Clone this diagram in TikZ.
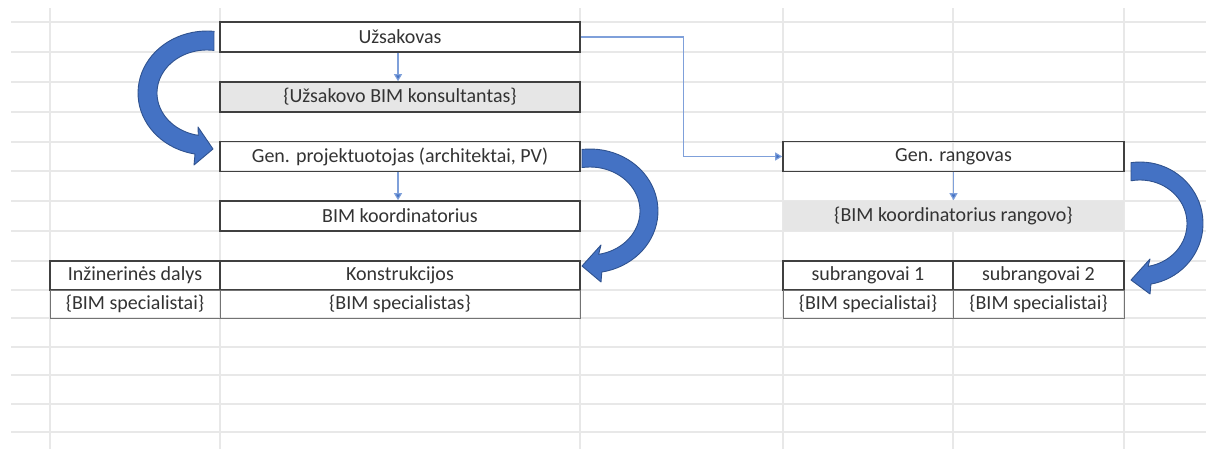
\documentclass[tikz,border=0pt]{standalone}
\usepackage{fontspec}
\setmainfont{Carlito}
\usetikzlibrary{arrows.meta}

\definecolor{gridgray}{HTML}{E8E8E8}
\definecolor{cellgray}{HTML}{E6E6E6}
\definecolor{arrowblue}{HTML}{4472C4}
\definecolor{arrowedge}{HTML}{2F528F}
\definecolor{linkblue}{HTML}{7FA0DA}

\tikzset{
  cell/.style={draw=black!75, line width=1.6pt, minimum height=30pt, inner sep=0pt,
    font=\fontsize{20}{22}\selectfont, text=black!80},
  thincell/.style={cell, draw=black!55, line width=0.9pt, minimum height=28pt},
  link/.style={draw=linkblue, line width=1.1pt, -{Triangle[width=8pt,length=7pt,fill=arrowblue]}},
  bigarrow/.style={fill=arrowblue, draw=arrowedge, line width=0.9pt, line join=round}
}

\begin{document}
\begin{tikzpicture}[x=1pt,y=-1pt]
        % page frame
        \useasboundingbox (0,0) rectangle (1206,449);

        % Draw spreadsheet grid
        \foreach \gy in {22,52,82,112,142,171,201,231,261,290,318,347,375,404,432}
          \draw[gridgray, line width=1.6pt] (11,\gy) -- (1206,\gy);
        \foreach \gx in {50,220,580,783,953,1124}
          \draw[gridgray, line width=1.6pt] (\gx,8) -- (\gx,449);

        % Left column of boxes
        \node[cell, minimum width=360pt] (uzs) at (400,37) {Užsakovas};
        \node[cell, minimum width=360pt, fill=cellgray] (kons) at (400,97) {\{Užsakovo BIM konsultantas\}};
        \node[cell, minimum width=360pt] (genp) at (400,156.5) {Gen. projektuotojas (architektai, PV)};
        \node[cell, minimum width=360pt] (bimk) at (400,216) {BIM koordinatorius};

        % Lower left table
        \node[cell, minimum width=170pt, minimum height=29pt] (inz) at (135,275.5) {Inžinerinės dalys};
        \node[cell, minimum width=360pt, minimum height=29pt] (konstr) at (400,275.5) {Konstrukcijos};
        \node[thincell, minimum width=170pt] (specA) at (135,304) {\{BIM specialistai\}};
        \node[thincell, minimum width=360pt] (specB) at (400,304) {\{BIM specialistas\}};

        % Right column of boxes
        \node[cell, minimum width=341pt] (genr) at (953.5,156.5) {Gen. rangovas};
        \node[cell, minimum width=341pt, draw=none, fill=cellgray] (bimkr) at (953.5,216) {\{BIM koordinatorius rangovo\}};

        % Lower right table
        \node[cell, minimum width=170pt, minimum height=29pt] (subA) at (868,275.5) {subrangovai 1};
        \node[cell, minimum width=171pt, minimum height=29pt] (subB) at (1038.5,275.5) {subrangovai 2};
        \node[thincell, minimum width=170pt] (specC) at (868,304) {\{BIM specialistai\}};
        \node[thincell, minimum width=171pt] (specD) at (1038.5,304) {\{BIM specialistai\}};

        % Thin blue connectors
        \draw[link] (uzs.south -| 398,0) -- (kons.north -| 398,0);
        \draw[link] (genp.south -| 398,0) -- (bimk.north -| 398,0);
        \draw[link] (genr.south) -- (bimkr.north);
        \draw[link] (uzs.east) -- ++(103,0) |- (genr.west);

        % Big curved arrow: Užsakovas -> Gen. projektuotojas
        \draw[bigarrow] (214,31.4)
          -- plot[domain=84:260, samples=40] ({207+69*cos(\x)},{93-62*sin(\x)})
          -- (194,165) -- (213,149) -- (198,127)
          -- plot[domain=260:82, samples=40] ({207+50*cos(\x)},{93-43*sin(\x)})
          -- cycle;

        % Big curved arrow: Gen. projektuotojas -> Konstrukcijos
        \draw[bigarrow] (582,149.4)
          -- plot[domain=96.8:-80, samples=40] ({590+68*cos(\x)},{211-62*sin(\x)})
          -- (601,282) -- (582,266) -- (601,245)
          -- plot[domain=-80:99.2, samples=40] ({590+50*cos(\x)},{211-44*sin(\x)})
          -- cycle;

        % Big curved arrow: Gen. rangovas -> subrangovai 2
        \draw[bigarrow] (1131,162.6)
          -- plot[domain=98.2:-80, samples=40] ({1140+63*cos(\x)},{223.5-61.5*sin(\x)})
          -- (1150,294) -- (1131,280) -- (1150,259)
          -- plot[domain=-80:101, samples=40] ({1140+47*cos(\x)},{223.5-43.5*sin(\x)})
          -- cycle;
    \end{tikzpicture}
\end{document}
